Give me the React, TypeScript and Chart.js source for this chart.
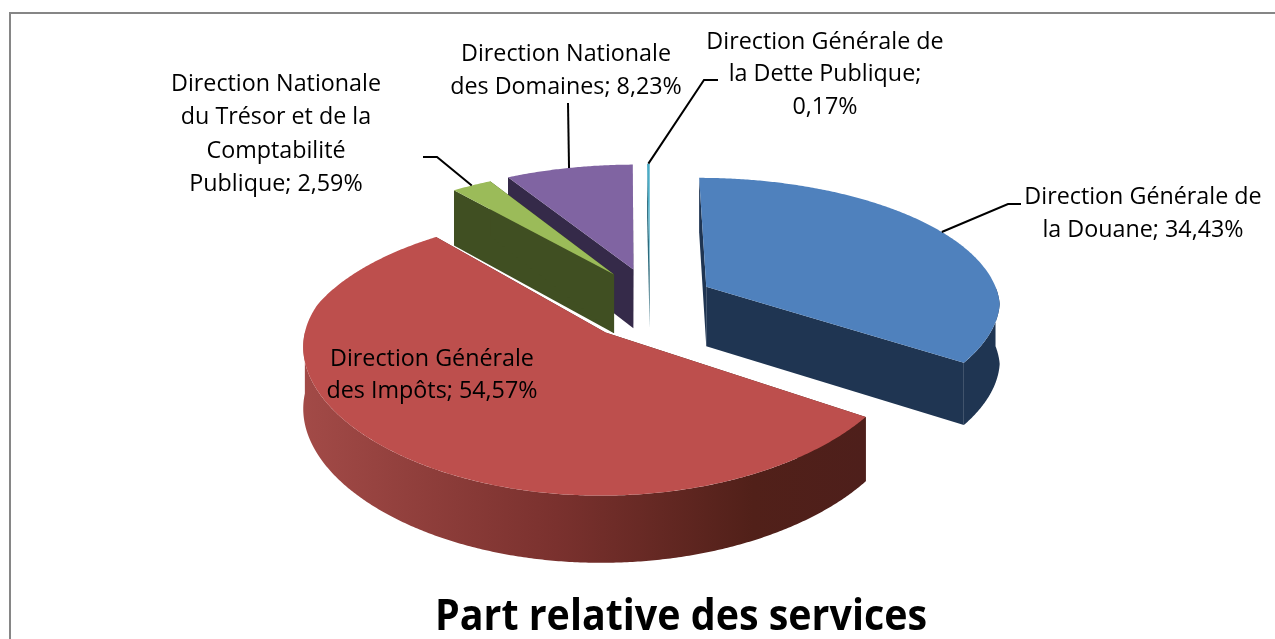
import React, { useEffect, useRef } from "react";
import { Chart, registerables } from "chart.js";

Chart.register(...registerables);

const categories = [
  "Direction Générale de la Douane",
  "Direction Générale des Impôts",
  "Direction Nationale du Trésor et de la Comptabilité Publique",
  "Direction Nationale des Domaines",
  "Direction Générale de la Dette Publique",
];
const shares = [34.43, 54.57, 2.59, 8.23, 0.17];
const titleText = "Part relative des services";
const labelLines = [
  ["Direction Générale de", "la Douane; 34,43%"],
  ["Direction Générale", "des Impôts; 54,57%"],
  ["Direction Nationale", "du Trésor et de la", "Comptabilité", "Publique; 2,59%"],
  ["Direction Nationale", "des Domaines; 8,23%"],
  ["Direction Générale de", "la Dette Publique;", "0,17%"],
];
const topColors = ["#4f81bd", "#bd4f4d", "#9bbb59", "#8064a2", "#4bacc6"];
const sideColors = ["#1f3552", "#512019", "#404f22", "#352a49", "#2d6a7c"];

const labelX = [1143, 432, 276, 566, 825];
const labelY = [197, 359, 84, 54, 42];
const lineStep = [33, 32, 33.6, 33, 32.5];
const elbows: number[][][] = [
  [[1008, 204], [1021, 204]],
  [],
  [[437, 157], [423, 157]],
  [[568, 103]],
  [[704, 80], [718, 80]],
];
const paintOrder = [4, 3, 2, 0, 1];

const EXPLODE_V = 1.3;
const TILT = 0.44;
const DEPTH = 60;

// Simple perspective: the far half of the disc shrinks faster than the near half grows.
const project = (cx: number, cy: number, U: number, V: number, h: number) => {
  const sx = 1 / (1 - (V < 0 ? 0.0005 : 0.0003) * V);
  const sy = 1 / (1 - 0.0005 * V);
  const sh = 1 / (1 - 0.0003 * V);
  return [cx + U * sx, cy + TILT * V * sy + h * sh];
};

const pie3d = {
  id: "pie3d",
  beforeDatasetsDraw(chart: any) {
    const ctx: CanvasRenderingContext2D = chart.ctx;
    const arcs = chart.getDatasetMeta(0).data;
    const geometry = (i: number) => {
      const a = arcs[i];
      const p = a.getProps(["x", "y", "startAngle", "endAngle", "outerRadius"], true);
      const mid = (p.startAngle + p.endAngle) / 2;
      const off = a.options.offset;
      return {
        ...p,
        U0: off * Math.cos(mid),
        V0: off * EXPLODE_V * Math.sin(mid),
      };
    };
    const rimPoint = (g: any, ang: number, h: number) =>
      project(g.x, g.y, g.U0 + g.outerRadius * Math.cos(ang), g.V0 + g.outerRadius * Math.sin(ang), h);
    const poly = (pts: number[][], fill: any) => {
      ctx.beginPath();
      pts.forEach((q, n) => (n ? ctx.lineTo(q[0], q[1]) : ctx.moveTo(q[0], q[1])));
      ctx.closePath();
      ctx.fillStyle = fill;
      ctx.fill();
    };
    const sweep = (from: number, to: number, h: number, g: any) => {
      const n = Math.max(2, Math.ceil((to - from) * 120));
      const out: number[][] = [];
      for (let k = 0; k <= n; k++) out.push(rimPoint(g, from + ((to - from) * k) / n, h));
      return out;
    };
    ctx.save();
    for (const i of paintOrder) {
      const g = geometry(i);
      const apexTop = project(g.x, g.y, g.U0, g.V0, 0);
      const apexLow = project(g.x, g.y, g.U0, g.V0, DEPTH);
      const side = sideColors[i];
      for (const ang of [g.startAngle, g.endAngle]) {
        poly([apexTop, rimPoint(g, ang, 0), rimPoint(g, ang, DEPTH), apexLow], side);
      }
      const from = Math.max(g.startAngle, 0);
      const to = Math.min(g.endAngle, Math.PI);
      if (to > from) {
        let fill: any = side;
        if (i === 1) {
          const left = rimPoint(g, Math.PI, 0)[0];
          const right = rimPoint(g, 0.6, 0)[0];
          const grad = ctx.createLinearGradient(left, 0, right, 0);
          grad.addColorStop(0, "#a24a47");
          grad.addColorStop(0.45, "#7a312e");
          grad.addColorStop(0.8, "#512019");
          grad.addColorStop(1, "#4e1f1b");
          fill = grad;
        }
        poly([...sweep(from, to, 0, g), ...sweep(from, to, DEPTH, g).reverse()], fill);
      }
      poly([apexTop, ...sweep(g.startAngle, g.endAngle, 0, g)], topColors[i]);
    }
    ctx.restore();
    return false;
  },
  afterDraw(chart: any) {
    const ctx: CanvasRenderingContext2D = chart.ctx;
    const arcs = chart.getDatasetMeta(0).data;
    ctx.save();
    // frame: only the left and top edges fall inside the picture
    ctx.strokeStyle = "#868686";
    ctx.lineWidth = 2;
    ctx.beginPath();
    ctx.moveTo(10, 640);
    ctx.lineTo(10, 13);
    ctx.lineTo(1276, 13);
    ctx.stroke();
    // leaders and labels
    ctx.strokeStyle = "#000";
    ctx.lineWidth = 2;
    arcs.forEach((a: any, i: number) => {
      if (elbows[i].length) {
        const p = a.getProps(["x", "y", "startAngle", "endAngle", "outerRadius"], true);
        const mid = (p.startAngle + p.endAngle) / 2;
        const off = a.options.offset;
        const U = (off + p.outerRadius) * Math.cos(mid);
        const V = (off * EXPLODE_V + p.outerRadius) * Math.sin(mid);
        const start = project(p.x, p.y, U, V, 0);
        ctx.beginPath();
        ctx.moveTo(start[0], start[1]);
        elbows[i].forEach((q) => ctx.lineTo(q[0], q[1]));
        ctx.stroke();
      }
    });
    ctx.fillStyle = "#000";
    ctx.font = "23.3px 'Open Sans'";
    ctx.textAlign = "center";
    ctx.textBaseline = "middle";
    labelLines.forEach((lines, i) => {
      lines.forEach((t, n) => ctx.fillText(t, labelX[i], labelY[i] + n * lineStep[i]));
    });
    ctx.font = "bold 43px 'Open Sans'";
    ctx.fillText(titleText, 681, 618, 492);
    ctx.restore();
  },
};

export default function App() {
  const ref = useRef<HTMLCanvasElement>(null);
  useEffect(() => {
    document.body.style.margin = "0";
    const chart = new Chart(ref.current!, {
      type: "pie",
      data: {
        labels: categories,
        datasets: [{ data: shares, backgroundColor: topColors, offset: 65, borderWidth: 0 }],
      },
      options: {
        animation: false,
        responsive: false,
        radius: 295,
        layout: { padding: { left: 25, bottom: 31 } },
        plugins: { legend: { display: false }, title: { display: false }, tooltip: { enabled: false } },
      } as any,
      plugins: [pie3d as any],
    });
    return () => chart.destroy();
  }, []);
  return <canvas ref={ref} width={1275} height={639} style={{ display: "block", background: "#fff" }} />;
}
